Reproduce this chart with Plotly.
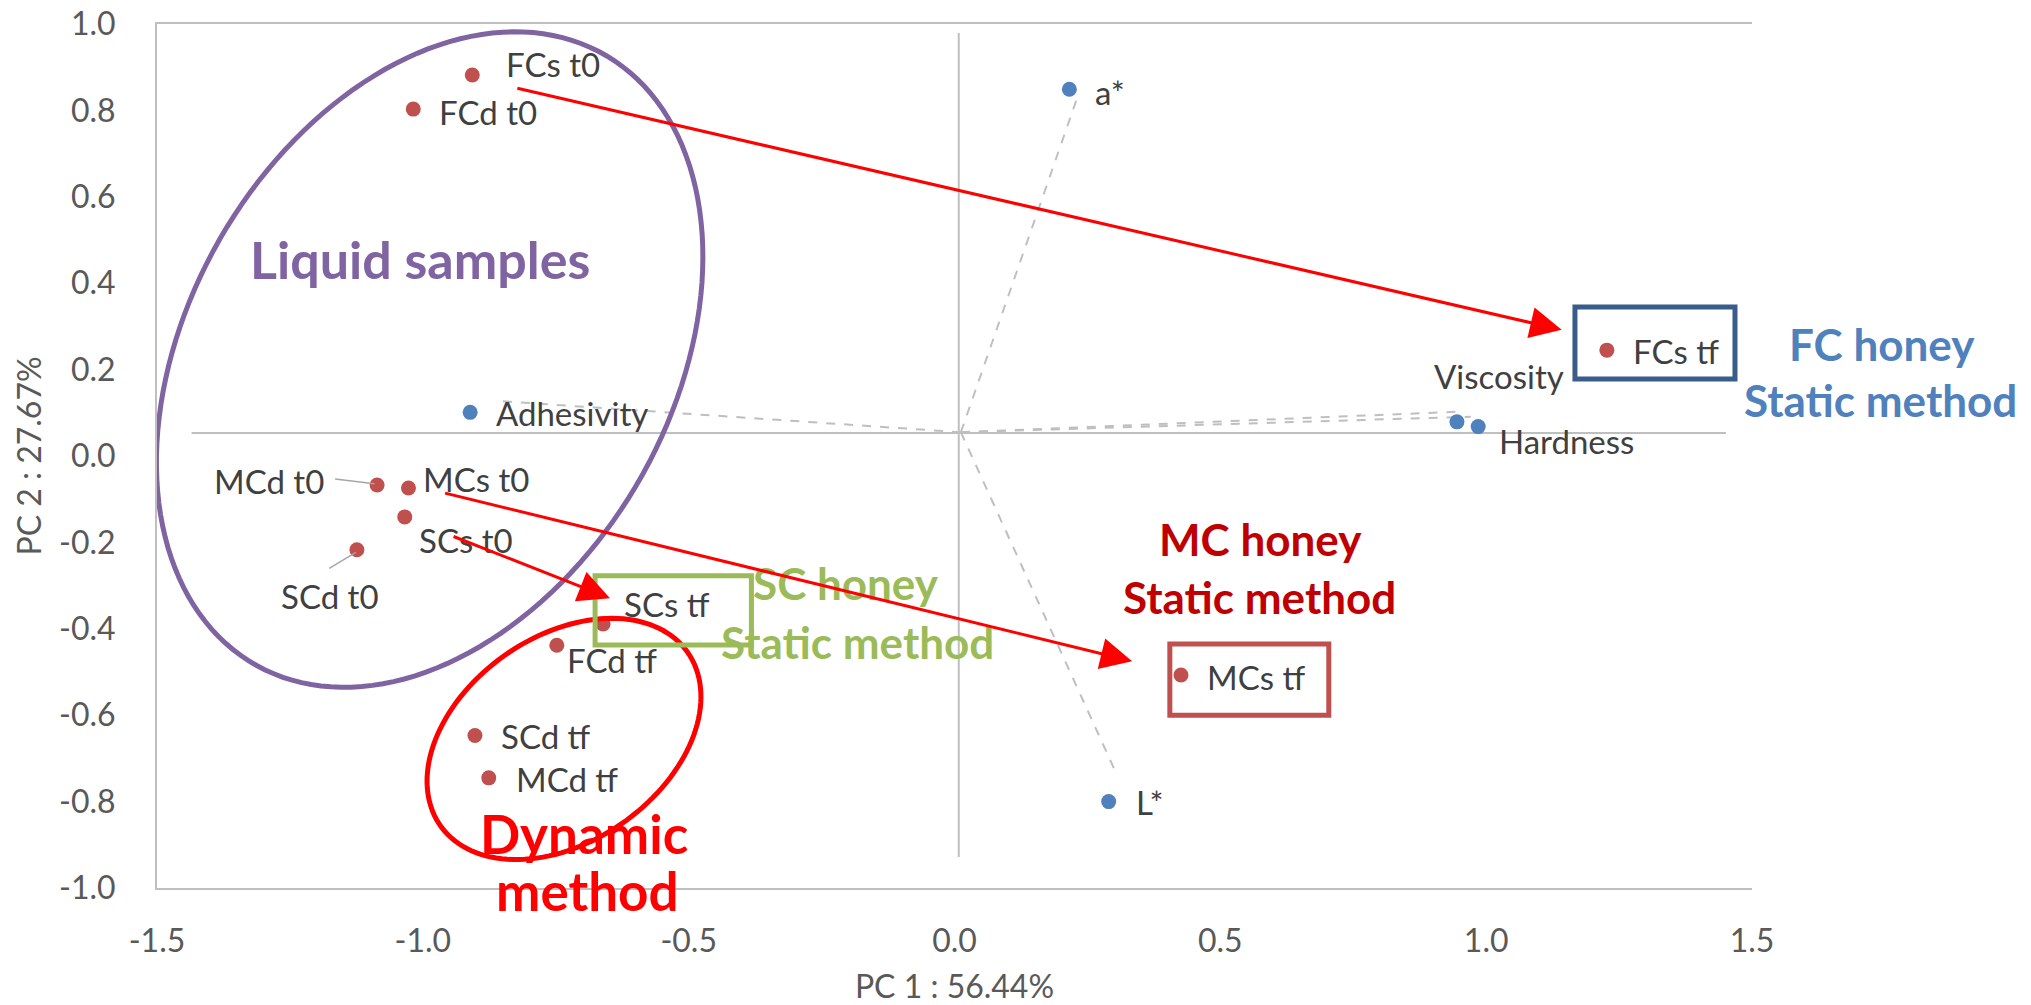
import numpy as np
import plotly.graph_objects as go

# ---------------- data ----------------
sample_names = ["FCs t0", "FCd t0", "MCd t0", "MCs t0", "SCs t0", "SCd t0",
                "SCs tf", "FCd tf", "SCd tf", "MCd tf", "FCs tf", "MCs tf"]
sample_pc1 = [-0.907, -1.018, -1.086, -1.027, -1.034, -1.124,
              -0.661, -0.748, -0.902, -0.876, 1.227, 0.426]
sample_pc2 = [0.882, 0.803, -0.067, -0.074, -0.141, -0.217,
              -0.389, -0.438, -0.647, -0.745, 0.245, -0.507]

var_names = ["a*", "Adhesivity", "Viscosity", "Hardness", "L*"]
var_pc1 = [0.216, -0.911, 0.945, 0.985, 0.290]
var_pc2 = [0.849, 0.101, 0.079, 0.068, -0.800]

# loading vectors (dashed, drawn from the origin)
vec_origin = (0.012, 0.055)
vec_end_pc1 = [0.231, -0.853, 0.945, 0.971, 0.304]
vec_end_pc2 = [0.830, 0.127, 0.1025, 0.091, -0.734]

x_tick_vals = [-1.5, -1.0, -0.5, 0.0, 0.5, 1.0, 1.5]
x_tick_text = ["-1.5", "-1.0", "-0.5", "0.0", "0.5", "1.0", "1.5"]
y_tick_vals = [-1.0, -0.8, -0.6, -0.4, -0.2, 0.0, 0.2, 0.4, 0.6, 0.8, 1.0]
y_tick_text = ["-1.0", "-0.8", "-0.6", "-0.4", "-0.2", "0.0", "0.2", "0.4", "0.6", "0.8", "1.0"]

x_title = "PC 1 : 56.44%"
y_title = "PC 2 : 27.67%"

# ---------------- label placement (positions only) ----------------
label_place = {
    "FCs t0": (-0.848, 0.907, "left"),
    "FCd t0": (-0.974, 0.797, "left"),
    "MCd t0": (-1.183, -0.058, "right"),
    "MCs t0": (-1.004, -0.053, "left"),
    "SCs t0": (-1.011, -0.194, "left"),
    "SCd t0": (-1.175, -0.323, "center"),
    "SCs tf": (-0.625, -0.343, "left"),
    "FCd tf": (-0.733, -0.472, "left"),
    "SCd tf": (-0.857, -0.647, "left"),
    "MCd tf": (-0.829, -0.748, "left"),
    "FCs tf": (1.272, 0.242, "left"),
    "MCs tf": (0.472, -0.511, "left"),
    "a*": (0.261, 0.843, "left"),
    "Adhesivity": (-0.866, 0.0986, "left"),
    "Viscosity": (1.150, 0.185, "right"),
    "Hardness": (1.020, 0.035, "left"),
    "L*": (0.337, -0.801, "left"),
}

leader_lines = [((-1.165, -0.053), (-1.091, -0.064)),
                ((-1.176, -0.260), (-1.126, -0.223))]

arrows = [((-0.825, 0.852), (1.142, 0.292)),
          ((-0.961, -0.085), (0.334, -0.475)),
          ((-0.945, -0.185), (-0.648, -0.329))]

boxes = [((1.167, 0.178), (1.468, 0.345), "#385D8A"),
         ((0.405, -0.600), (0.704, -0.435), "#C0504D"),
         ((-0.676, -0.4375), (-0.382, -0.277), "#9BBB59")]

# traced outline of the "Liquid samples" ellipse (page pixels)
liquid_outline_px = [(512, 31), (607, 64), (676, 124), (702, 259), (641, 480),
                     (557, 587), (431, 667), (342, 689), (153, 463), (170, 367),
                     (210, 267), (268, 167), (357, 83)]

# group notes: (text, x, y, color, size)  -- positions in axis units
group_notes = [
    ("FC honey", 1.744, 0.259, "#4F81BD", 44),
    ("Static method", 1.742, 0.130, "#4F81BD", 44),
    ("MC honey", 0.576, -0.192, "#C00000", 44),
    ("Static method", 0.573, -0.3275, "#C00000", 44),
    ("SC honey", -0.205, -0.294, "#9BBB59", 44),
    ("Static method", -0.182, -0.4306, "#9BBB59", 44),
    ("Dynamic", -0.697, -0.874, "#FF0000", 53),
    ("method", -0.690, -1.005, "#FF0000", 53),
    ("Liquid samples", -1.006, 0.456, "#8064A2", 52),
]

# ---------------- figure geometry ----------------
W, H = 2031, 1005
ML, MR, MT, MB = 157, 279, 24, 117
XR, YR = (-1.5, 1.5), (-1.0, 1.0)
px_x = (W - ML - MR) / (XR[1] - XR[0])
px_y = (H - MT - MB) / (YR[1] - YR[0])


def to_paper(x, y):
    return (x - XR[0]) / (XR[1] - XR[0]), (y - YR[0]) / (YR[1] - YR[0])


def px_to_data(X, Y):
    return XR[0] + (np.asarray(X) - ML) / px_x, YR[1] - (np.asarray(Y) - MT) / px_y


def path_from(xs, ys):
    pts = [f"{x:.4f},{y:.4f}" for x, y in zip(xs, ys)]
    return "M " + " L ".join(pts) + " Z"


def ellipse_path(cx, cy, a_px, b_px, ang_deg, n=140):
    t = np.linspace(0, 2 * np.pi, n)
    th = np.radians(ang_deg)
    dx = a_px * np.cos(t) * np.cos(th) - b_px * np.sin(t) * np.sin(th)
    dy = a_px * np.cos(t) * np.sin(th) + b_px * np.sin(t) * np.cos(th)
    return path_from(cx + dx / px_x, cy + dy / px_y)


def fitted_ellipse_path(outline, n=160):
    P = np.asarray(outline, float)
    x, y = P[:, 0], P[:, 1]
    mx, my = x.mean(), y.mean()
    s = max(x.std(), y.std())
    xn, yn = (x - mx) / s, (y - my) / s
    D = np.column_stack([xn * xn, xn * yn, yn * yn, xn, yn, np.ones_like(xn)])
    _, _, Vt = np.linalg.svd(D)
    A, B, C, Dd, E, F = Vt[-1]
    c = np.linalg.solve(np.array([[2 * A, B], [B, 2 * C]]), [-Dd, -E])
    F0 = A * c[0] ** 2 + B * c[0] * c[1] + C * c[1] ** 2 + Dd * c[0] + E * c[1] + F
    w, V = np.linalg.eigh(np.array([[A, B / 2], [B / 2, C]]))
    ax = np.sqrt(np.abs(F0 / w))
    t = np.linspace(0, 2 * np.pi, n)
    pts = (c[:, None] + V[:, :1] * ax[0] * np.cos(t) + V[:, 1:2] * ax[1] * np.sin(t))
    Xp, Yp = pts[0] * s + mx, pts[1] * s + my
    xs, ys = px_to_data(Xp, Yp)
    return path_from(xs, ys)


fig = go.Figure()

# dashed loading vectors
lx, ly = [], []
for ex, ey in zip(vec_end_pc1, vec_end_pc2):
    lx += [vec_origin[0], ex, None]
    ly += [vec_origin[1], ey, None]
fig.add_trace(go.Scatter(x=lx, y=ly, mode="lines",
                         line=dict(color="#BFBFBF", width=2, dash="dash"),
                         hoverinfo="skip"))

fig.add_trace(go.Scatter(x=var_pc1, y=var_pc2, mode="markers", text=var_names,
                         marker=dict(color="#4F81BD", size=15)))
fig.add_trace(go.Scatter(x=sample_pc1, y=sample_pc2, mode="markers", text=sample_names,
                         marker=dict(color="#C0504D", size=15)))

# cross lines through the origin
fig.add_shape(type="line", x0=-1.435, x1=1.451, y0=0.053, y1=0.053,
              line=dict(color="#BFBFBF", width=2), layer="below")
fig.add_shape(type="line", x0=0.008, x1=0.008, y0=0.979, y1=-0.928,
              line=dict(color="#BFBFBF", width=2), layer="below")

for (x0, y0), (x1, y1) in leader_lines:
    fig.add_shape(type="line", x0=x0, y0=y0, x1=x1, y1=y1,
                  line=dict(color="#A6A6A6", width=1.5))

# ellipses
fig.add_shape(type="path", path=fitted_ellipse_path(liquid_outline_px),
              line=dict(color="#8064A2", width=5))
fig.add_shape(type="path", path=ellipse_path(-0.7345, -0.655, 151, 102.5, 35),
              line=dict(color="#FF0000", width=5))

for (x0, y0), (x1, y1), col in boxes:
    fig.add_shape(type="rect", x0=x0, y0=y0, x1=x1, y1=y1,
                  line=dict(color=col, width=5))

# point labels
for name in sample_names + var_names:
    x, y, anc = label_place[name]
    fig.add_annotation(x=x, y=y, text=name, showarrow=False, xanchor=anc,
                       yanchor="middle", font=dict(family="Lato", size=33, color="#404040"))

for txt, x, y, col, sz in group_notes:
    px, py = to_paper(x, y)
    fig.add_annotation(x=px, y=py, xref="paper", yref="paper",
                       text=f"<b>{txt}</b>", showarrow=False,
                       xanchor="center", yanchor="middle",
                       font=dict(family="Lato", size=sz, color=col))

for (x0, y0), (x1, y1) in arrows:
    fig.add_annotation(x=x1, y=y1, ax=x0, ay=y0, xref="x", yref="y",
                       axref="x", ayref="y", text="", showarrow=True,
                       arrowhead=2, arrowsize=2.1, arrowwidth=3,
                       arrowcolor="#FF0000", standoff=0, startstandoff=0)

fig.update_layout(
    width=W, height=H,
    margin=dict(l=ML, r=MR, t=MT, b=MB, autoexpand=False),
    plot_bgcolor="white", paper_bgcolor="white", showlegend=False,
    font=dict(family="Lato", size=32, color="#595959"),
)
fig.update_xaxes(range=list(XR), tickvals=x_tick_vals, ticktext=x_tick_text,
                 showgrid=False, zeroline=False, showline=True, mirror=True,
                 linecolor="#BFBFBF", linewidth=2, ticks="", ticklabelstandoff=24,
                 tickfont=dict(size=32, color="#595959"),
                 title=dict(text=x_title, standoff=29, font=dict(size=32, color="#595959")))
fig.update_yaxes(range=list(YR), tickvals=y_tick_vals, ticktext=y_tick_text,
                 showgrid=False, zeroline=False, showline=True,
                 linecolor="#BFBFBF", linewidth=2, ticks="", ticklabelstandoff=33,
                 tickfont=dict(size=32, color="#595959"),
                 title=dict(text=y_title, standoff=8, font=dict(size=32, color="#595959")))

fig.write_html("out.html")
